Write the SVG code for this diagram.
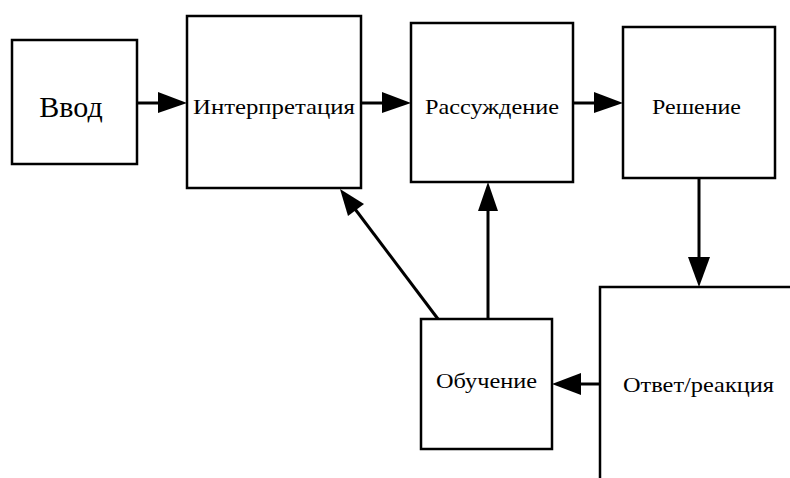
<svg xmlns="http://www.w3.org/2000/svg" width="790" height="478" viewBox="0 0 790 478">
<style>
.box{fill:#fff;stroke:#000;stroke-width:2.5}
.t{font-family:"Liberation Serif","Times New Roman",serif;font-size:22px;fill:#000;text-anchor:middle}
.ln{stroke:#000;stroke-width:3;fill:none}
.ah{fill:#000}
</style>
<rect width="790" height="478" fill="#fff"/>
<g id="connectors">
<line class="ln" x1="137" y1="103" x2="160" y2="103"/>
<polygon class="ah" points="158,92 187,103 158,113"/>
<line class="ln" x1="361" y1="103" x2="384" y2="103"/>
<polygon class="ah" points="382,92 411,103 382,113"/>
<line class="ln" x1="573" y1="103" x2="596" y2="103"/>
<polygon class="ah" points="594,92 623,103 594,113"/>
<line class="ln" x1="699" y1="178" x2="699" y2="260"/>
<polygon class="ah" points="688,257 699,287 710,257"/>
<line class="ln" x1="600" y1="384" x2="578" y2="384"/>
<polygon class="ah" points="581,373 552,384 581,395"/>
<line class="ln" x1="488" y1="319" x2="488" y2="208"/>
<polygon class="ah" points="478,211 488,182 498,211"/>
<line class="ln" x1="438" y1="319" x2="352" y2="205" stroke-width="2.5"/>
<polygon class="ah" points="340,189 364,204 348,216"/>
</g>
<g id="vvod"><rect class="box" x="12" y="40" width="125" height="124"/><text class="t" x="71" y="117" style="font-size:30px">Ввод</text></g>
<g id="interp"><rect class="box" x="187" y="16" width="174" height="172"/><text class="t" x="274" y="114" textLength="162" lengthAdjust="spacingAndGlyphs">Интерпретация</text></g>
<g id="reason"><rect class="box" x="411" y="23" width="162" height="159"/><text class="t" x="492" y="114" textLength="134" lengthAdjust="spacingAndGlyphs">Рассуждение</text></g>
<g id="decision"><rect class="box" x="623" y="27" width="152" height="151"/><text class="t" x="696.5" y="114" textLength="89" lengthAdjust="spacingAndGlyphs">Решение</text></g>
<g id="learn"><rect class="box" x="421" y="319" width="131" height="130"/><text class="t" x="486.5" y="388" textLength="101" lengthAdjust="spacingAndGlyphs">Обучение</text></g>
<g id="response"><rect class="box" x="600" y="287" width="220" height="220"/><text class="t" x="698.5" y="392" textLength="151" lengthAdjust="spacingAndGlyphs">Ответ/реакция</text></g>
</svg>
